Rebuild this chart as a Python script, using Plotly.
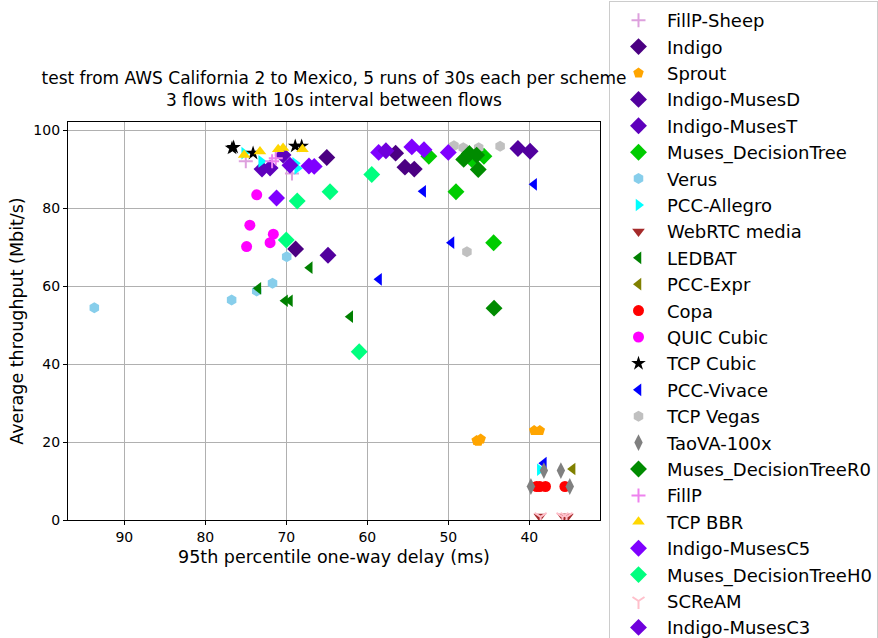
import plotly.graph_objects as go

# 95th percentile one-way delay (ms) and average throughput (Mbit/s), per scheme
fillp_sheep_delay = [75.0, 69.3]
fillp_sheep_tput = [92.1, 89.0]
indigo_delay = [65.0, 56.5, 55.35, 54.2, 68.85]
indigo_tput = [93.1, 94.2, 90.6, 90.1, 69.6]
sprout_delay = [46.5, 46.0, 46.3, 39.4, 38.7]
sprout_tput = [20.4, 20.8, 20.2, 23.0, 23.0]
musesd_delay = [41.4, 39.9, 64.85]
musesd_tput = [95.4, 94.7, 68.0]
muset_delay = [73.0, 72.0, 70.4]
muset_tput = [90.1, 90.4, 93.7]
dtree_delay = [52.4, 49.05, 44.4, 45.6, 47.1]
dtree_tput = [93.4, 84.3, 71.2, 93.4, 92.6]
verus_delay = [93.7, 76.75, 73.65, 71.7, 69.95]
verus_tput = [54.5, 56.5, 58.8, 60.8, 67.6]
allegro_delay = [75.2, 73.1, 68.9, 68.65, 38.7]
allegro_tput = [94.2, 92.1, 91.6, 90.3, 12.9]
webrtc_delay = [38.7, 35.3, 35.8]
webrtc_tput = [0.9, 0.9, 0.9]
ledbat_delay = [67.1, 73.45, 70.15, 69.55, 62.1]
ledbat_tput = [64.8, 59.5, 56.3, 56.3, 52.2]
expr_delay = [34.65]
expr_tput = [13.1]
copa_delay = [39.1, 38.7, 38.0, 35.6]
copa_tput = [8.6, 8.6, 8.6, 8.6]
quic_delay = [73.65, 74.5, 71.6, 74.9, 72.0]
quic_tput = [83.5, 75.7, 73.4, 70.2, 71.2]
cubic_delay = [76.7, 76.5, 74.1, 68.9, 68.1]
cubic_tput = [95.5, 95.7, 94.2, 96.0, 96.0]
vivace_delay = [53.1, 39.4, 49.6, 58.55, 38.2]
vivace_tput = [84.4, 86.2, 71.2, 61.8, 14.6]
vegas_delay = [49.3, 48.15, 46.25, 43.6, 47.7]
vegas_tput = [96.1, 95.6, 95.6, 96.0, 68.9]
taova_delay = [38.2, 36.1, 39.8, 35.0]
taova_tput = [12.7, 12.7, 8.6, 8.6]
r0_delay = [48.1, 47.4, 46.5, 46.3, 44.35]
r0_tput = [92.6, 94.1, 93.7, 90.0, 54.4]
fillp_delay = [71.75, 71.3]
fillp_tput = [92.1, 92.9]
bbr_delay = [75.2, 73.25, 71.0, 70.4, 68.0]
bbr_tput = [93.7, 94.6, 95.2, 95.5, 95.2]
c5_delay = [58.6, 54.5, 53.0, 50.0, 71.2, 67.2, 66.55]
c5_tput = [94.4, 95.8, 95.1, 94.4, 82.7, 90.9, 90.8]
h0_delay = [64.6, 68.65, 70.0, 59.45, 61.0]
h0_tput = [84.3, 81.9, 71.9, 88.7, 43.2]
scream_delay = [38.6, 35.4, 35.9]
scream_tput = [0.8, 0.8, 0.8]
c3_delay = [57.7, 69.55]
c3_tput = [94.8, 91.1]

# name, x, y, color, symbol, size
schemes = [
    ("FillP-Sheep", fillp_sheep_delay, fillp_sheep_tput, "#DDA0DD", "cross-thin", 10),
    ("Indigo", indigo_delay, indigo_tput, "#4B0082", "diamond", 13),
    ("Sprout", sprout_delay, sprout_tput, "#FFA500", "pentagon", 11),
    ("Indigo-MusesD", musesd_delay, musesd_tput, "#52009E", "diamond", 13),
    ("Indigo-MusesT", muset_delay, muset_tput, "#5E00BC", "diamond", 13),
    ("Muses_DecisionTree", dtree_delay, dtree_tput, "#00CC00", "diamond", 13),
    ("Verus", verus_delay, verus_tput, "#87CEEB", "hexagon", 11),
    ("PCC-Allegro", allegro_delay, allegro_tput, "#00FFFF", "triangle-right", 11),
    ("WebRTC media", webrtc_delay, webrtc_tput, "#A52A2A", "triangle-down", 11),
    ("LEDBAT", ledbat_delay, ledbat_tput, "#008000", "triangle-left", 11),
    ("PCC-Expr", expr_delay, expr_tput, "#808000", "triangle-left", 11),
    ("Copa", copa_delay, copa_tput, "#FF0000", "circle", 11),
    ("QUIC Cubic", quic_delay, quic_tput, "#FF00FF", "circle", 11),
    ("TCP Cubic", cubic_delay, cubic_tput, "#000000", "star", 11),
    ("PCC-Vivace", vivace_delay, vivace_tput, "#0000FF", "triangle-left", 11),
    ("TCP Vegas", vegas_delay, vegas_tput, "#C0C0C0", "hexagon", 11),
    ("TaoVA-100x", taova_delay, taova_tput, "#808080", "diamond-tall", 12),
    ("Muses_DecisionTreeR0", r0_delay, r0_tput, "#008B00", "diamond", 13),
    ("FillP", fillp_delay, fillp_tput, "#EE82EE", "cross-thin", 10),
    ("TCP BBR", bbr_delay, bbr_tput, "#FFD700", "triangle-up", 11),
    ("Indigo-MusesC5", c5_delay, c5_tput, "#7F00FF", "diamond", 13),
    ("Muses_DecisionTreeH0", h0_delay, h0_tput, "#00FF7F", "diamond", 13),
    ("SCReAM", scream_delay, scream_tput, "#FFC0CB", "y-down", 10),
    ("Indigo-MusesC3", c3_delay, c3_tput, "#6F00DC", "diamond", 13),
]

fig = go.Figure()
for name, xs, ys, color, symbol, size in schemes:
    line_only = symbol in ("cross-thin", "y-down")
    fig.add_trace(go.Scatter(
        x=xs, y=ys, mode="markers", name=name,
        marker=dict(symbol=symbol, size=size, color=color,
                    line=dict(width=2 if line_only else 0, color=color)),
        cliponaxis=True,
    ))

axis_style = dict(
    showline=True, linecolor="black", linewidth=1.2, mirror=True,
    showgrid=True, gridcolor="#b0b0b0", gridwidth=1,
    ticks="outside", ticklen=4, tickcolor="black",
    tickfont=dict(size=14, color="black"), zeroline=False,
)

fig.update_layout(
    width=878, height=638,
    font=dict(family="DejaVu Sans", color="black"),
    paper_bgcolor="white", plot_bgcolor="white",
    margin=dict(l=68, r=278, t=122, b=118, autoexpand=False),
    title=dict(
        text="test from AWS California 2 to Mexico, 5 runs of 30s each per scheme<br>3 flows with 10s interval between flows",
        x=334 / 878, xanchor="center", yref="container", y=1 - 84 / 638, yanchor="bottom",
        font=dict(size=17, color="black"),
    ),
    xaxis=dict(axis_style, range=[96.95, 31.27], tickvals=[90, 80, 70, 60, 50, 40],
               title=dict(text="95th percentile one-way delay (ms)", font=dict(size=17.5), standoff=6)),
    yaxis=dict(axis_style, range=[0, 102.2], tickvals=[0, 20, 40, 60, 80, 100],
               title=dict(text="Average throughput (Mbit/s)", font=dict(size=17.5), standoff=5)),
    legend=dict(
        x=(609 - 68) / 532, xanchor="left", y=1 + (122 - 1) / 398, yanchor="top",
        font=dict(size=18, color="black"),
        bgcolor="rgba(255,255,255,0.8)", bordercolor="#cccccc", borderwidth=1,
        tracegroupgap=0, maxheight=700, itemwidth=47,
    ),
    showlegend=True,
)

fig.write_html("out.html", config={"displayModeBar": False},
               post_script="document.body.style.margin = '0';")
